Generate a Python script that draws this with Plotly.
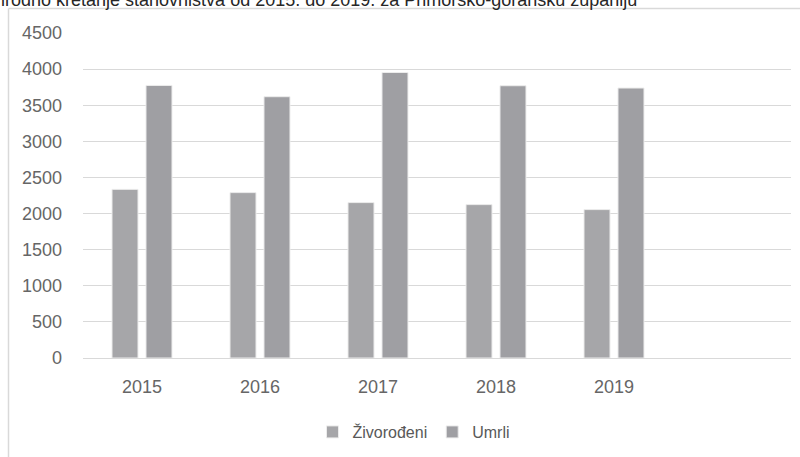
import plotly.graph_objects as go

years = ["2015", "2016", "2017", "2018", "2019"]
zivorodeni = [2335, 2290, 2152, 2124, 2055]
umrli = [3774, 3618, 3953, 3770, 3738]
y_ticks = [0, 500, 1000, 1500, 2000, 2500, 3000, 3500, 4000, 4500]

W, H = 800, 457
ML, MR, MT, MB = 83, 9, 33, 98
PW, PH = W - ML - MR, H - MT - MB


def px_x(px):
    return (px - ML) / PW


def px_y(py):
    return (H - MB - py) / PH


fig = go.Figure()
fig.add_trace(go.Bar(
    x=years, y=zivorodeni, name="Živorođeni",
    marker=dict(color="#a6a6a9", line=dict(color="#ececec", width=1)),
))
fig.add_trace(go.Bar(
    x=years, y=umrli, name="Umrli",
    marker=dict(color="#9f9fa3", line=dict(color="#ececec", width=1)),
))

fig.update_layout(
    width=W, height=H,
    margin=dict(l=ML, r=MR, t=MT, b=MB, pad=0),
    paper_bgcolor="white", plot_bgcolor="white",
    barmode="group", bargap=0.424, bargroupgap=0.235,
    font=dict(family="Liberation Sans, Arial, sans-serif", color="#666666"),
    showlegend=True,
    legend=dict(
        orientation="h", x=0.5 - 23 / PW, xanchor="center",
        y=px_y(432), yanchor="middle",
        font=dict(size=16, color="#595959"),
        itemwidth=30, traceorder="normal",
    ),
    xaxis=dict(
        type="category", range=[-0.5, 5.5],
        showgrid=False, showline=True, linecolor="#d9d9d9", linewidth=1,
        ticks="", tickfont=dict(size=18, color="#666666"),
        ticklabelstandoff=12,
    ),
    yaxis=dict(
        range=[0, 4500], tickvals=y_ticks,
        showgrid=True, gridcolor="#d9d9d9", gridwidth=1,
        zeroline=False, showline=False, ticks="",
        tickfont=dict(size=18, color="#666666"),
        ticklabelstandoff=20,
    ),
    shapes=[
        dict(type="line", xref="paper", yref="paper",
             x0=px_x(8.5), x1=px_x(805), y0=px_y(8.5), y1=px_y(8.5),
             line=dict(color="#d9d9d9", width=1.5)),
        dict(type="line", xref="paper", yref="paper",
             x0=px_x(8.5), x1=px_x(8.5), y0=px_y(8.5), y1=px_y(460),
             line=dict(color="#d9d9d9", width=1.5)),
    ],
    annotations=[
        dict(text="Prirodno kretanje stanovništva od 2015. do 2019. za Primorsko-goransku županiju",
             xref="paper", yref="paper", x=px_x(639), xanchor="right",
             y=px_y(11.5), yanchor="bottom", showarrow=False,
             font=dict(size=18, color="#262626")),
    ],
)

fig.write_html(
    "out.html",
    config={"displayModeBar": False},
    post_script="document.body.style.margin='0';document.body.style.overflow='hidden';",
)
